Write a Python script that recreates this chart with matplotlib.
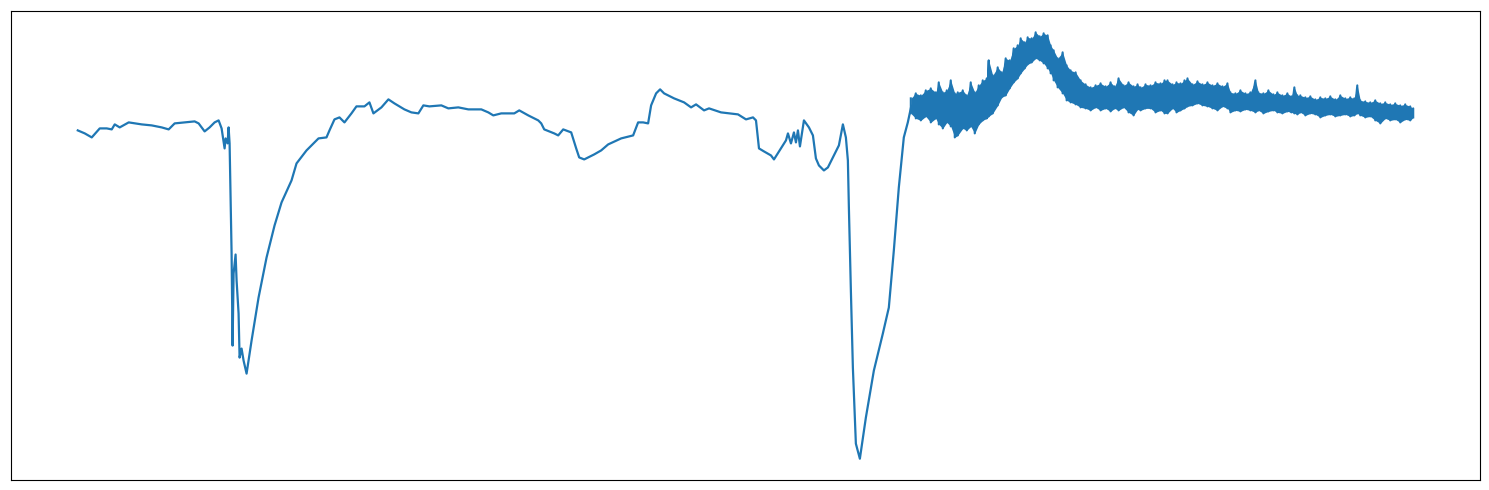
import numpy as np
import matplotlib
matplotlib.use("Agg")
import matplotlib.pyplot as plt

# smooth part of the trace (sample index, depth reading; larger = lower)
sample = [76, 83, 90, 98, 105, 110, 113, 118, 127, 140, 150, 160, 167, 173, 183, 193, 197, 203, 208,
          213, 217, 220, 223, 224, 226, 227, 228, 230, 231, 232, 234, 235, 237, 238, 240, 242, 245,
          250, 257, 265, 273, 280, 290, 295, 305, 313, 317, 325, 328, 333, 338, 343, 350, 355, 363,
          368, 372, 380, 387, 393, 403, 410, 417, 422, 428, 440, 447, 457, 467, 480, 487, 492, 500,
          513, 518, 527, 537, 540, 543, 553, 557, 562, 570, 575, 578, 583, 593, 600, 607, 620, 632,
          637, 642, 647, 650, 655, 659, 663, 673, 683, 690, 695, 703, 708, 720, 737, 745, 752, 755,
          758, 763, 770, 773, 780, 785, 787, 790, 793, 795, 797, 799, 803, 808, 812, 815, 818, 823,
          827, 833, 838, 842, 845, 847, 848, 850, 852, 855, 859, 865, 873, 882, 888, 893,
          898, 903, 907, 910]
depth = [130, 133, 137, 128, 128, 129, 124, 127, 122, 124, 125, 127, 129, 123, 122, 121, 123, 131, 127,
         122, 120, 128, 148, 138, 143, 127, 143, 253, 345, 273, 254, 280, 313, 357, 348, 360, 373,
         340, 297, 257, 225, 202, 180, 163, 150, 142, 138, 137, 130, 119, 117, 122, 113, 106, 106,
         102, 113, 107, 99, 103, 109, 112, 113, 105, 106, 105, 108, 107, 109, 109, 112, 115, 113,
         113, 110, 115, 120, 123, 129, 133, 135, 129, 132, 148, 157, 159, 154, 150, 144, 138, 135,
         122, 122, 123, 105, 93, 89, 93, 98, 102, 107, 104, 110, 108, 112, 114, 119, 117, 120,
         148, 151, 155, 159, 148, 140, 133, 143, 132, 142, 130, 146, 120, 127, 135, 158, 165, 170,
         167, 155, 145, 124, 137, 160, 207, 290, 367, 443, 458, 417, 370, 333, 307, 250,
         187, 137, 122, 108]

# noisy part: upper and lower edge of the band
noise_sample = [910, 915, 920, 925, 930, 935, 938, 942, 946, 950, 954, 957, 962, 966, 970, 974, 978,
                982, 986, 988, 992, 997, 1001, 1005, 1009, 1013, 1017, 1020, 1024, 1027, 1031, 1035,
                1039, 1043, 1047, 1050, 1053, 1057, 1062, 1066, 1070, 1075, 1080, 1085, 1090, 1095,
                1100, 1105, 1110, 1114, 1118, 1123, 1128, 1133, 1137, 1140, 1145, 1150, 1155, 1160,
                1164, 1167, 1172, 1176, 1180, 1184, 1187, 1192, 1197, 1202, 1207, 1212, 1217, 1222,
                1227, 1230, 1235, 1240, 1245, 1250, 1255, 1258, 1263, 1268, 1273, 1277, 1282, 1287,
                1291, 1294, 1297, 1300, 1305, 1310, 1315, 1320, 1325, 1330, 1335, 1340, 1345, 1350,
                1354, 1357, 1360, 1365, 1370, 1375, 1380, 1385, 1390, 1395, 1400, 1405, 1410, 1413]
noise_top = [98, 93, 95, 90, 88, 92, 82, 92, 90, 80, 93, 92, 90, 95, 82, 92, 85,
             80, 78, 60, 75, 67, 72, 58, 60, 48, 45, 38, 42, 37, 38, 32,
             36, 33, 35, 45, 50, 58, 52, 65, 70, 72, 80, 84, 87, 85,
             83, 86, 82, 86, 78, 85, 82, 86, 84, 87, 84, 85, 82, 83,
             80, 80, 84, 82, 83, 80, 78, 84, 81, 84, 82, 85, 83, 86,
             83, 92, 93, 90, 93, 92, 80, 92, 93, 90, 94, 92, 95, 93,
             96, 87, 95, 95, 97, 96, 99, 97, 98, 96, 99, 95, 98, 97,
             98, 85, 100, 101, 102, 100, 103, 102, 104, 103, 105, 104, 106, 108]
noise_bottom = [113, 118, 120, 116, 122, 118, 124, 128, 122, 126, 137, 135, 128, 130, 126, 133, 124,
                120, 118, 116, 113, 105, 97, 95, 88, 82, 78, 73, 68, 64, 62, 58,
                60, 63, 68, 73, 80, 87, 93, 100, 102, 104, 107, 108, 110, 107,
                110, 108, 111, 108, 110, 107, 112, 115, 109, 110, 108, 108, 112, 110,
                113, 113, 108, 112, 110, 108, 106, 105, 103, 105, 106, 108, 110, 106,
                108, 112, 110, 111, 109, 110, 112, 110, 113, 111, 110, 112, 113, 111,
                112, 113, 114, 112, 115, 113, 114, 117, 115, 114, 116, 115, 114, 116,
                115, 113, 115, 117, 116, 120, 123, 118, 120, 119, 122, 119, 120, 117]

color = "#1f77b4"

fig = plt.figure(figsize=(14.89, 4.9), dpi=100)
ax = fig.add_axes([11 / 1489, 10 / 490, 1469 / 1489, 469 / 490])

ax.plot(sample, depth, color=color, lw=1.6)

# band of the noisy tail, with a zigzag along it for the ragged edges
ax.fill_between(noise_sample, noise_top, noise_bottom, color=color, lw=0)
zig_x = np.repeat(noise_sample, 2)
zig_y = np.column_stack([noise_top, noise_bottom]).ravel()
ax.plot(zig_x, zig_y, color=color, lw=1.5)

ax.invert_yaxis()
ax.set_xticks([])
ax.set_yticks([])

fig.savefig("out.png", dpi=100)
